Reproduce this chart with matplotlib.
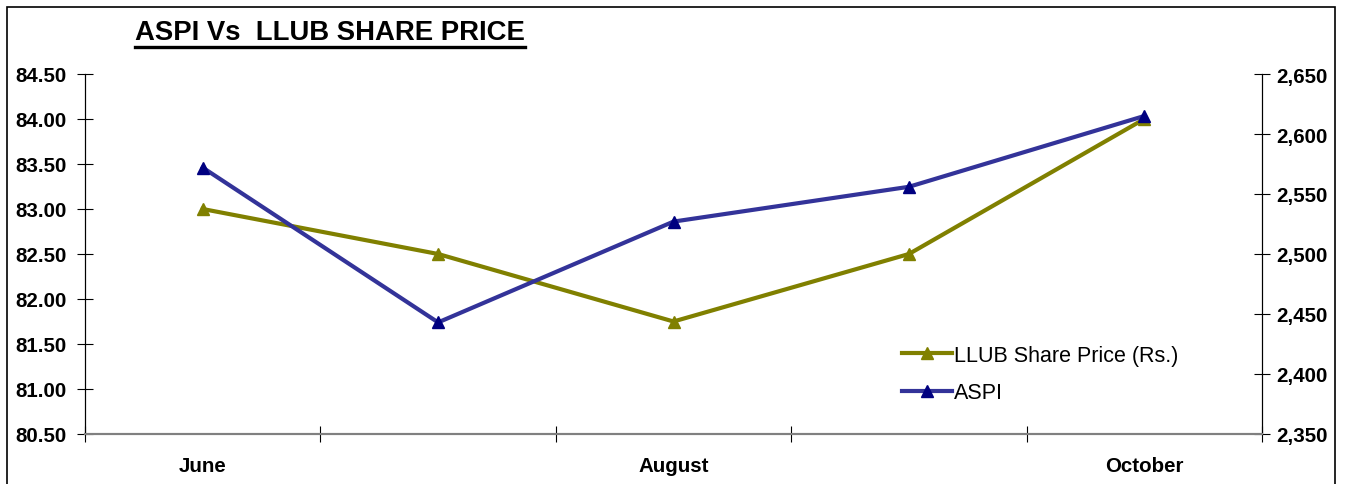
import matplotlib
matplotlib.use("Agg")
import matplotlib.pyplot as plt
from matplotlib.patches import Rectangle
from matplotlib.lines import Line2D

months = ["June", "July", "August", "September", "October"]
month_labels = ["June", "", "August", "", "October"]
llub = [83.00, 82.50, 81.75, 82.50, 84.00]
aspi = [2572, 2443, 2527, 2556, 2615]
left_ticks = [80.5, 81.0, 81.5, 82.0, 82.5, 83.0, 83.5, 84.0, 84.5]
right_ticks = [2350, 2400, 2450, 2500, 2550, 2600, 2650]

plt.rcParams['font.family'] = ['Liberation Sans', 'DejaVu Sans']

fig = plt.figure(figsize=(13.48, 4.85), dpi=100)
W, H = 1348, 485
ax = fig.add_axes([85 / W, 1 - 435 / H, (1262 - 85) / W, (435 - 75) / H])
ax2 = ax.twinx()

x = list(range(len(months)))
l1, = ax.plot(x, llub, color="#808000", lw=3, marker="^", ms=8,
              mfc="#808000", mec="#808000", label="LLUB Share Price (Rs.)", zorder=3)
l2, = ax2.plot(x, aspi, color="#333399", lw=3, marker="^", ms=8,
               mfc="#000080", mec="#000080", label="ASPI", zorder=3)

FS = 14.8
ax.set_xlim(-0.5, len(months) - 0.5)
ax.set_ylim(80.5, 84.5)
ax2.set_ylim(2350, 2650)
ax.set_yticks(left_ticks)
ax.set_yticklabels([f"{v:.2f}" for v in left_ticks], fontsize=FS, fontweight="bold")
ax2.set_yticks(right_ticks)
ax2.set_yticklabels([f"{v:,}" for v in right_ticks], fontsize=FS, fontweight="bold")

ax.set_xticks([i + 0.5 for i in range(-1, len(months))])
ax.set_xticklabels([])
ax.set_xticks(x, minor=True)
ax.set_xticklabels(month_labels, minor=True, fontsize=FS, fontweight="bold")
ax.tick_params(axis="x", which="minor", length=0, pad=16)
ax.tick_params(axis="x", which="major", direction="inout", length=12, color="#000000", width=0.8)
ax.tick_params(axis="y", direction="inout", length=12, width=0.8, pad=7)
ax2.tick_params(axis="y", direction="inout", length=12, width=0.8, pad=4)

for a in (ax, ax2):
    a.spines["top"].set_visible(False)
    a.spines["bottom"].set_color("#808080")
    a.spines["bottom"].set_linewidth(1.5)
    a.spines["left"].set_color("black")
    a.spines["right"].set_color("black")
    a.patch.set_visible(False)

leg = ax2.legend([l1, l2], ["LLUB Share Price (Rs.)", "ASPI"], loc="upper left",
                 bbox_to_anchor=((902 - 85) / (1262 - 85), 1 - (346 - 75) / 360),
                 frameon=False, fontsize=15.5, handlelength=2.3, handletextpad=0.1,
                 labelspacing=0.75, borderaxespad=0, borderpad=0)

# figure border
fig.patches.append(Rectangle((7 / W, -0.01), (1335 - 7) / W, 1 - 8 / H + 0.01,
                             transform=fig.transFigure, fill=False,
                             edgecolor="black", lw=1.2))

t = fig.text(135 / W, 1 - 33 / H, "ASPI Vs  LLUB SHARE PRICE", fontsize=19.8,
             fontweight="bold", ha="left", va="center")
fig.canvas.draw()
bb = t.get_window_extent()
fig.add_artist(Line2D([bb.x0 / W, bb.x1 / W], [1 - 48 / H, 1 - 48 / H],
                      transform=fig.transFigure, color="black", lw=2.4))

fig.savefig("out.png", dpi=100)
